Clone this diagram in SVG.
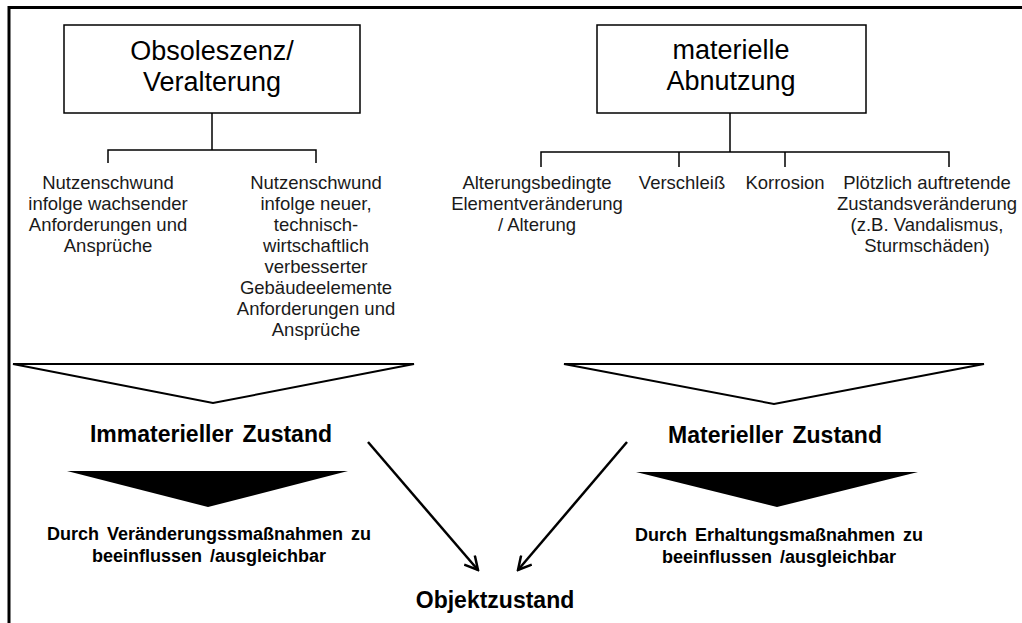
<svg xmlns="http://www.w3.org/2000/svg" width="1022" height="623" viewBox="0 0 1022 623">
  <style>
    .box { fill: #ffffff; stroke: #000000; stroke-width: 1.5; }
    .title { font-family: "Liberation Sans", Arial, sans-serif; font-size: 27px; fill: #000000; text-anchor: middle; }
    .item { font-family: "Liberation Sans", Arial, sans-serif; font-size: 18.5px; fill: #1a1a1a; text-anchor: middle; }
    .state { font-family: "Liberation Sans", Arial, sans-serif; font-size: 23px; font-weight: bold; fill: #000000; text-anchor: middle; word-spacing: 3px; }
    .note { font-family: "Liberation Sans", Arial, sans-serif; font-size: 18px; font-weight: bold; fill: #000000; text-anchor: middle; word-spacing: 3px; }
    .tree { fill: none; stroke: #000000; stroke-width: 1.5; }
    .open { fill: #ffffff; stroke: #000000; stroke-width: 2; stroke-linejoin: miter; }
    .solid { fill: #000000; stroke: none; }
    .arrow { fill: none; stroke: #000000; stroke-width: 2.5; }
  </style>
  <defs>
    <marker id="chevron" markerWidth="16" markerHeight="16" refX="14" refY="8" orient="auto" markerUnits="userSpaceOnUse">
      <path d="M1,1 L14,8 L1,15" fill="none" stroke="#000000" stroke-width="2.5"/>
    </marker>
  </defs>

  <rect x="0" y="0" width="1022" height="623" fill="#ffffff"/>

  <!-- frame -->
  <g id="frame">
    <path d="M9,623 L9,7.5 L1022,7.5" fill="none" stroke="#000000" stroke-width="3"/>
  </g>

  <!-- top-level boxes -->
  <g id="obsoleszenz">
    <rect class="box" x="64" y="25" width="296" height="88"/>
    <text class="title" x="212" y="60">Obsoleszenz/</text>
    <text class="title" x="212" y="91">Veralterung</text>
  </g>
  <g id="abnutzung">
    <rect class="box" x="597" y="25" width="269" height="88"/>
    <text class="title" x="731" y="59">materielle</text>
    <text class="title" x="731" y="90">Abnutzung</text>
  </g>

  <!-- cause items -->
  <g id="nutzen-anforderungen">
    <text class="item" x="108" y="189">Nutzenschwund</text>
    <text class="item" x="108" y="210">infolge wachsender</text>
    <text class="item" x="108" y="231">Anforderungen und</text>
    <text class="item" x="108" y="252">Ansprüche</text>
  </g>
  <g id="nutzen-technik">
    <text class="item" x="316" y="189">Nutzenschwund</text>
    <text class="item" x="316" y="210">infolge neuer,</text>
    <text class="item" x="316" y="231">technisch-</text>
    <text class="item" x="316" y="252">wirtschaftlich</text>
    <text class="item" x="316" y="273">verbesserter</text>
    <text class="item" x="316" y="294">Gebäudeelemente</text>
    <text class="item" x="316" y="315">Anforderungen und</text>
    <text class="item" x="316" y="336">Ansprüche</text>
  </g>
  <g id="alterung">
    <text class="item" x="537" y="189">Alterungsbedingte</text>
    <text class="item" x="537" y="210">Elementveränderung</text>
    <text class="item" x="537" y="231">/ Alterung</text>
  </g>
  <g id="verschleiss">
    <text class="item" x="682" y="189">Verschleiß</text>
  </g>
  <g id="korrosion">
    <text class="item" x="785" y="189">Korrosion</text>
  </g>
  <g id="ploetzlich">
    <text class="item" x="927" y="189">Plötzlich auftretende</text>
    <text class="item" x="927" y="210">Zustandsveränderung</text>
    <text class="item" x="927" y="231">(z.B. Vandalismus,</text>
    <text class="item" x="927" y="252">Sturmschäden)</text>
  </g>

  <!-- funnels -->
  <g id="funnel-immateriell">
    <polygon class="open" points="13,364 414,364 213,403"/>
  </g>
  <g id="funnel-materiell">
    <polygon class="open" points="564,364 984,364 774,404"/>
  </g>

  <!-- resulting states -->
  <g id="immateriell">
    <text class="state" x="211" y="442">Immaterieller Zustand</text>
  </g>
  <g id="materiell">
    <text class="state" x="775" y="443">Materieller Zustand</text>
  </g>

  <!-- measures -->
  <g id="massnahmen-veraenderung">
    <polygon class="solid" points="67,471 348,471 208,507"/>
    <text class="note" x="209" y="540">Durch Veränderungssmaßnahmen zu</text>
    <text class="note" x="209" y="562">beeinflussen /ausgleichbar</text>
  </g>
  <g id="massnahmen-erhaltung">
    <polygon class="solid" points="636,472 918,472 777,507"/>
    <text class="note" x="779" y="541">Durch Erhaltungsmaßnahmen zu</text>
    <text class="note" x="779" y="563">beeinflussen /ausgleichbar</text>
  </g>

  <g id="objektzustand">
    <text class="state" x="495" y="608">Objektzustand</text>
  </g>

  <!-- connectors -->
  <g id="connectors">
    <path class="tree" d="M212,113 V150 M108,163 V150 H316 V163"/>
    <path class="tree" d="M730,113 V152 M541,167 V152 H949 V167 M679,152 V167 M785,152 V167"/>
    <line class="arrow" x1="368" y1="442" x2="478" y2="570" marker-end="url(#chevron)"/>
    <line class="arrow" x1="627" y1="442" x2="518" y2="570" marker-end="url(#chevron)"/>
  </g>
</svg>
